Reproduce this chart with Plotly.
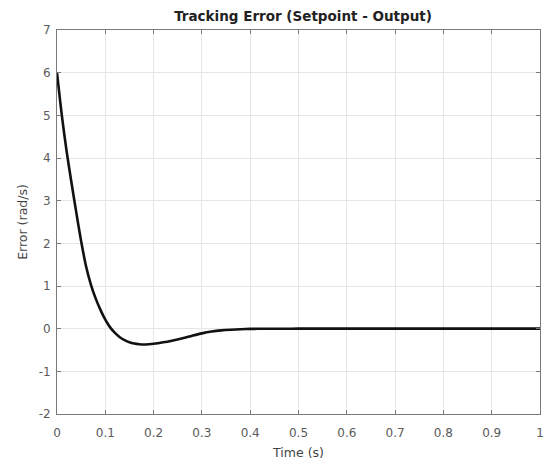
import plotly.graph_objects as go

# Time samples (s) and tracking error values (rad/s)
time_s = [0.0, 0.01, 0.02, 0.03, 0.04, 0.05, 0.06, 0.07, 0.08, 0.09,
          0.10, 0.11, 0.12, 0.13, 0.14, 0.15, 0.16, 0.17, 0.18, 0.19,
          0.20, 0.22, 0.24, 0.26, 0.28, 0.30, 0.32, 0.34, 0.36, 0.38,
          0.40, 0.43, 0.46, 0.50, 0.60, 0.70, 0.80, 0.90, 1.00]
error_val = [6.0, 5.0, 4.15, 3.42, 2.72, 2.05, 1.47, 1.04, 0.71, 0.44,
             0.21, 0.03, -0.10, -0.20, -0.27, -0.32, -0.35, -0.365, -0.37, -0.365,
             -0.355, -0.32, -0.275, -0.225, -0.165, -0.11, -0.068, -0.04, -0.024, -0.013,
             -0.006, -0.002, -0.001, 0.0, 0.0, 0.0, 0.0, 0.0, 0.0]

x_ticks = [0, 0.1, 0.2, 0.3, 0.4, 0.5, 0.6, 0.7, 0.8, 0.9, 1]
x_tick_labels = ["0", "0.1", "0.2", "0.3", "0.4", "0.5", "0.6", "0.7", "0.8", "0.9", "1"]
y_ticks = [-2, -1, 0, 1, 2, 3, 4, 5, 6, 7]
y_tick_labels = ["-2", "-1", "0", "1", "2", "3", "4", "5", "6", "7"]

FONT = "DejaVu Sans, Verdana, sans-serif"

fig = go.Figure()
fig.add_trace(go.Scatter(
    x=time_s, y=error_val, mode="lines",
    line=dict(color="#111111", width=2.6, shape="spline", smoothing=0.8),
    showlegend=False,
))

axis_common = dict(
    showline=True, linecolor="#7a7a7a", linewidth=1, mirror="ticks",
    ticks="inside", ticklen=4, tickcolor="#7a7a7a",
    showgrid=True, gridcolor="#e6e6e6", gridwidth=1,
    zeroline=False,
    tickfont=dict(family=FONT, size=12, color="#5a5a5a"),
)

fig.update_layout(
    width=548, height=464,
    margin=dict(l=57, r=4, t=30, b=50),
    paper_bgcolor="white", plot_bgcolor="white",
    title=dict(
        text="<b>Tracking Error (Setpoint - Output)</b>",
        x=0.553, xanchor="center", y=0.964, yanchor="middle",
        font=dict(family=FONT, size=13.5, color="#222222"),
    ),
    xaxis=dict(
        range=[0, 1], tickvals=x_ticks, ticktext=x_tick_labels,
        ticklabelstandoff=8,
        title=dict(text="Time (s)", standoff=8,
                   font=dict(family=FONT, size=12.5, color="#444444")),
        **axis_common,
    ),
    yaxis=dict(
        range=[-2, 7], tickvals=y_ticks, ticktext=y_tick_labels,
        ticklabelstandoff=3,
        title=dict(text="Error (rad/s)", standoff=8,
                   font=dict(family=FONT, size=12.5, color="#444444")),
        **axis_common,
    ),
)

fig.write_html("out.html")
